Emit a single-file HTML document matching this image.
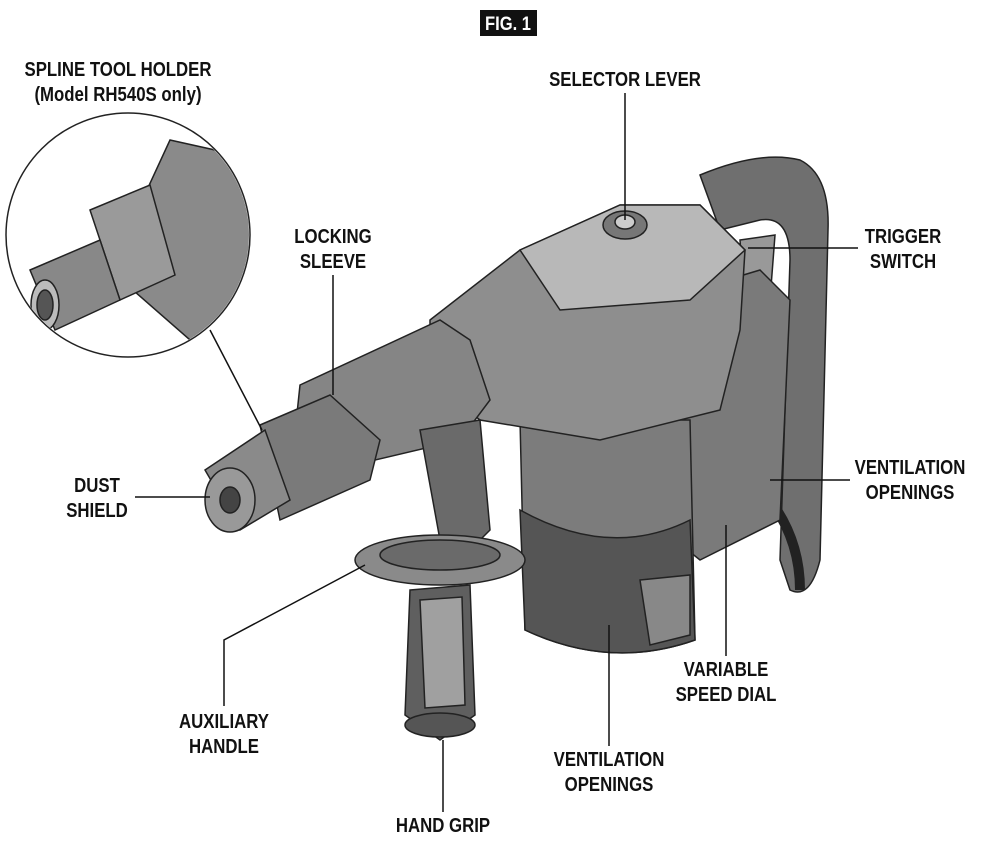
<!DOCTYPE html>
<html><head><style>
html,body{margin:0;padding:0;background:#fff;}
body{width:982px;height:845px;overflow:hidden;position:relative;}
.l{position:absolute;font-family:"Liberation Sans",sans-serif;font-weight:bold;font-size:20px;line-height:25px;text-align:center;color:#111;white-space:nowrap;transform:translateX(-50%) scaleX(0.84);}
</style></head><body>
<svg width="982" height="845" style="position:absolute;left:0;top:0" xmlns="http://www.w3.org/2000/svg">
<g stroke="#222" stroke-width="1.5">
<path d="M700,175 Q760,150 800,160 Q830,175 828,230 L820,560 Q810,600 790,590 L780,560 L790,260 Q790,215 760,220 L720,230 Z" fill="#6f6f6f"/>
<path d="M740,240 L775,235 L770,300 L745,310 Z" fill="#999"/>
<path d="M770,500 Q800,540 800,590" fill="none" stroke="#222" stroke-width="10"/>
<path d="M660,300 L760,270 L790,300 L780,520 L700,560 L650,520 Z" fill="#7a7a7a"/>
<path d="M520,420 L690,420 L695,640 Q610,670 525,630 Z" fill="#7c7c7c"/>
<path d="M520,510 Q610,560 690,520 L695,640 Q610,670 525,630 Z" fill="#555"/>
<path d="M640,580 L690,575 L690,635 L650,645 Z" fill="#888"/>
<path d="M430,320 L520,250 L620,205 L700,205 L745,250 L740,330 L720,410 L600,440 L480,420 L430,380 Z" fill="#8e8e8e"/>
<path d="M520,250 L620,205 L700,205 L745,250 L690,300 L560,310 Z" fill="#b8b8b8"/>
<ellipse cx="625" cy="225" rx="22" ry="14" fill="#777"/>
<ellipse cx="625" cy="222" rx="10" ry="7" fill="#ccc"/>
<path d="M300,385 L440,320 L470,340 L490,400 L460,440 L290,480 Z" fill="#858585"/>
<path d="M260,425 L330,395 L380,440 L370,480 L280,520 Z" fill="#7a7a7a"/>
<path d="M205,470 L265,430 L290,500 L240,530 Z" fill="#8a8a8a"/>
<ellipse cx="230" cy="500" rx="25" ry="32" fill="#999"/>
<ellipse cx="230" cy="500" rx="10" ry="13" fill="#444"/>
<path d="M420,430 L480,420 L490,530 L460,560 L440,540 Z" fill="#6a6a6a"/>
<ellipse cx="440" cy="560" rx="85" ry="25" fill="#8a8a8a"/>
<ellipse cx="440" cy="555" rx="60" ry="15" fill="#6a6a6a"/>
<path d="M410,590 L470,585 L475,715 L440,740 L405,715 Z" fill="#5f5f5f"/>
<path d="M420,600 L462,597 L465,705 L425,708 Z" fill="#a0a0a0"/>
<ellipse cx="440" cy="725" rx="35" ry="12" fill="#555"/>
<circle cx="128" cy="235" r="122" fill="#fff"/>
</g>
<clipPath id="c"><circle cx="128" cy="235" r="121"/></clipPath>
<g clip-path="url(#c)" stroke="#222" stroke-width="1.5">
<path d="M170,140 L260,160 L260,300 L190,340 L110,270 Z" fill="#8a8a8a"/>
<path d="M90,210 L150,185 L175,275 L120,300 Z" fill="#9a9a9a"/>
<path d="M30,270 L100,240 L120,300 L55,330 Z" fill="#888"/>
<ellipse cx="45" cy="305" rx="14" ry="25" fill="#bbb"/>
<ellipse cx="45" cy="305" rx="8" ry="15" fill="#555"/>
</g>
<g stroke="#111" stroke-width="1.5" fill="none">
<path d="M210,330 L262,430"/>
<path d="M625,93 L625,220"/>
<path d="M333,275 L333,395"/>
<path d="M858,248 L748,248"/>
<path d="M135,497 L210,497"/>
<path d="M850,480 L770,480"/>
<path d="M726,656 L726,525"/>
<path d="M609,746 L609,625"/>
<path d="M224,706 L224,640 L365,565"/>
<path d="M443,812 L443,740"/>
</g>
<rect x="480" y="10" width="57" height="26" fill="#111"/>
<text x="508" y="30" font-family="Liberation Sans, sans-serif" font-weight="bold" font-size="19" fill="#fff" text-anchor="middle" textLength="46" lengthAdjust="spacingAndGlyphs">FIG. 1</text>
</svg>
<div class="l" style="left:118px;top:58px">SPLINE TOOL HOLDER<br>(Model RH540S only)</div>
<div class="l" style="left:625px;top:68px">SELECTOR LEVER</div>
<div class="l" style="left:333px;top:225px">LOCKING<br>SLEEVE</div>
<div class="l" style="left:903px;top:225px">TRIGGER<br>SWITCH</div>
<div class="l" style="left:97px;top:474px">DUST<br>SHIELD</div>
<div class="l" style="left:910px;top:456px">VENTILATION<br>OPENINGS</div>
<div class="l" style="left:726px;top:658px">VARIABLE<br>SPEED DIAL</div>
<div class="l" style="left:609px;top:748px">VENTILATION<br>OPENINGS</div>
<div class="l" style="left:224px;top:710px">AUXILIARY<br>HANDLE</div>
<div class="l" style="left:443px;top:814px">HAND GRIP</div>
</body></html>
